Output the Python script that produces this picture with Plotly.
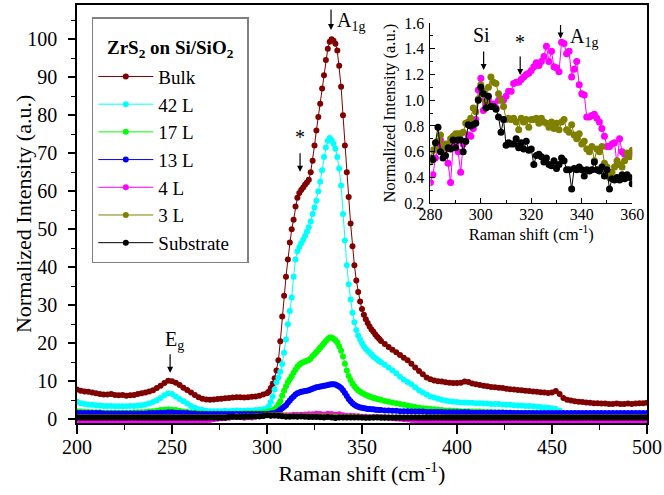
import plotly.graph_objects as go

# ---------------- data: main panel ----------------
x_fine = list(range(200, 300, 2)) + list(range(300, 360)) + list(range(360, 501, 2))
x_coarse = list(range(200, 501, 2))

bulk_y = [
    7.8, 7.5, 7.3, 7.2, 7.0, 6.8, 6.6, 6.5, 6.5, 6.6,
    6.4, 6.3, 6.4, 6.2, 6.3, 6.4, 6.6, 6.8, 7.0, 7.3,
    7.6, 8.2, 8.8, 9.5, 10.1, 10.0, 9.6, 9.0, 8.3, 7.7,
    7.0, 6.4, 5.8, 5.4, 5.2, 5.1, 5.2, 5.3, 5.4, 5.5,
    5.6, 5.7, 5.8, 5.8, 5.7, 5.8, 5.9, 6.0, 6.2, 6.5,
    6.8, 7.3, 8.2, 9.3, 10.8, 12.8, 15.5, 20.5, 27.0, 32.5,
    37.5, 42.0, 46.5, 50.0, 52.5, 56.0, 58.3, 59.5, 60.3, 61.0,
    61.7, 62.3, 63.0, 65.0, 68.0, 72.0, 76.0, 79.5, 83.0, 87.0,
    90.5, 94.5, 97.5, 99.3, 100.0, 99.6, 98.8, 97.0, 93.0, 87.5,
    80.0, 72.0, 65.0, 58.5, 51.5, 45.5, 40.5, 36.5, 33.5, 31.0,
    29.0, 27.5, 26.3, 25.3, 24.4, 23.6, 23.0, 22.3, 21.7, 21.2,
    20.6, 19.8, 19.0, 18.3, 17.6, 16.9, 16.2, 15.5, 14.6, 13.6,
    12.7, 11.8, 11.0, 10.5, 10.2, 10.0, 9.9, 9.7, 9.6, 9.5,
    9.5, 9.6, 9.9, 9.8, 9.4, 9.2, 9.0, 8.8, 8.7, 8.5,
    8.4, 8.3, 8.2, 8.0, 7.9, 7.8, 7.7, 7.6, 7.5, 7.4,
    7.3, 7.2, 7.1, 7.0, 6.9, 7.0, 7.4, 6.6, 5.6, 5.1,
    4.9, 4.7, 4.6, 4.5, 4.4, 4.3, 4.2, 4.2, 4.1, 4.1,
    4.0, 4.0, 4.1, 4.0, 4.0, 4.1, 4.0, 4.1, 4.2, 4.2,
    4.3,
]

l42_y = [
    4.6, 4.2, 4.0, 3.9, 3.8, 3.7, 3.6, 3.5, 3.5, 3.5,
    3.4, 3.4, 3.4, 3.4, 3.5, 3.5, 3.6, 3.7, 3.9, 4.1,
    4.5, 5.0, 5.6, 6.3, 6.8, 6.6, 6.0, 5.3, 4.7, 4.1,
    3.5, 3.0, 2.6, 2.4, 2.2, 2.1, 2.1, 2.1, 2.1, 2.2,
    2.1, 2.2, 2.3, 2.2, 2.2, 2.3, 2.3, 2.4, 2.5, 2.6,
    2.9, 3.4, 4.5, 6.0, 7.8, 9.7, 11.0, 12.5, 14.5, 17.5,
    21.0, 25.0, 28.5, 32.0, 37.5, 42.0, 44.2, 45.3, 46.3, 47.2,
    48.2, 49.3, 50.5, 52.0, 54.0, 55.7, 57.5, 60.0, 62.5, 65.5,
    69.0, 71.5, 73.3, 74.0, 73.5, 72.5, 71.2, 69.0, 66.0, 61.5,
    54.0, 47.0, 40.5, 35.5, 31.5, 28.0, 25.5, 23.5, 22.0, 21.0,
    20.0, 19.2, 18.5, 18.0, 17.5, 17.0, 16.5, 16.1, 15.7, 15.3,
    15.0, 14.3, 13.6, 12.9, 12.1, 11.2, 10.4, 9.8, 9.2, 8.4,
    7.6, 7.0, 6.5, 6.0, 5.7, 5.4, 5.1, 4.9, 4.7, 4.6,
    4.5, 4.4, 4.4, 4.3, 4.3, 4.2, 4.2, 4.1, 4.1, 4.0,
    4.0, 4.0, 3.9, 3.8, 3.8, 3.7, 3.6, 3.6, 3.5, 3.5,
    3.4, 3.3, 3.2, 3.1, 3.0, 2.9, 2.7, 2.2, 1.5, 1.3,
    1.2, 1.2, 1.2, 1.2, 1.2, 1.2, 1.2, 1.2, 1.2, 1.2,
    1.2, 1.2, 1.2, 1.2, 1.2, 1.2, 1.2, 1.2, 1.2, 1.2,
    1.2,
]

l17_y = [
    2.1, 2.0, 1.9, 1.9, 1.8, 1.8, 1.8, 1.7, 1.7, 1.7,
    1.7, 1.7, 1.7, 1.7, 1.7, 1.8, 1.8, 1.8, 1.9, 2.0,
    2.1, 2.2, 2.4, 2.5, 2.6, 2.5, 2.4, 2.2, 2.0, 1.9,
    1.8, 1.7, 1.6, 1.6, 1.5, 1.5, 1.5, 1.5, 1.5, 1.5,
    1.5, 1.5, 1.5, 1.5, 1.6, 1.6, 1.6, 1.6, 1.7, 1.8,
    1.9, 2.0, 2.1, 2.3, 2.6, 3.1, 3.8, 4.7, 6.2, 7.5,
    8.7, 9.7, 10.5, 11.3, 12.2, 13.0, 13.8, 14.3, 14.7, 15.0,
    15.2, 15.4, 15.6, 16.0, 16.6, 17.1, 17.6, 18.2, 18.8, 19.4,
    20.0, 20.6, 21.1, 21.5, 21.5, 21.2, 20.8, 20.2, 19.2, 18.0,
    16.5, 14.6, 12.8, 11.4, 10.3, 9.4, 8.7, 8.1, 7.6, 7.2,
    6.9, 6.6, 6.4, 6.2, 6.0, 5.8, 5.6, 5.5, 5.3, 5.2,
    5.1, 4.8, 4.6, 4.4, 4.2, 4.0, 3.8, 3.6, 3.4, 3.2,
    3.0, 2.9, 2.8, 2.7, 2.6, 2.5, 2.4, 2.3, 2.3, 2.2,
    2.2, 2.1, 2.1, 2.1, 2.0, 2.0, 2.0, 1.9, 1.9, 1.9,
    1.8, 1.8, 1.8, 1.7, 1.7, 1.7, 1.7, 1.6, 1.6, 1.6,
    1.6, 1.5, 1.5, 1.5, 1.5, 1.5, 1.5, 1.4, 1.4, 1.4,
    1.4, 1.4, 1.4, 1.4, 1.4, 1.4, 1.4, 1.4, 1.4, 1.4,
    1.4, 1.4, 1.4, 1.4, 1.4, 1.4, 1.4, 1.4, 1.4, 1.4,
    1.4,
]

l13_y = [
    1.6, 1.6, 1.6, 1.6, 1.6, 1.6, 1.6, 1.5, 1.5, 1.5,
    1.5, 1.5, 1.5, 1.5, 1.5, 1.5, 1.5, 1.5, 1.5, 1.6,
    1.6, 1.6, 1.7, 1.7, 1.8, 1.8, 1.7, 1.7, 1.6, 1.6,
    1.5, 1.5, 1.4, 1.4, 1.4, 1.4, 1.4, 1.4, 1.4, 1.4,
    1.4, 1.4, 1.4, 1.4, 1.4, 1.4, 1.4, 1.4, 1.4, 1.4,
    1.4, 1.4, 1.5, 1.5, 1.6, 1.8, 2.1, 2.5, 2.9, 3.3,
    3.7, 4.3, 4.9, 5.5, 6.0, 6.5, 6.8, 7.0, 7.2, 7.3,
    7.4, 7.5, 7.6, 7.8, 8.0, 8.2, 8.4, 8.5, 8.6, 8.7,
    8.8, 8.9, 9.0, 9.1, 9.2, 9.2, 9.1, 8.9, 8.6, 8.2,
    7.6, 6.9, 6.1, 5.3, 4.7, 4.2, 3.8, 3.5, 3.3, 3.1,
    3.0, 2.9, 2.8, 2.7, 2.7, 2.6, 2.6, 2.5, 2.5, 2.4,
    2.4, 2.3, 2.3, 2.2, 2.2, 2.1, 2.1, 2.1, 2.0, 2.0,
    2.0, 2.0, 1.9, 1.9, 1.9, 1.9, 1.9, 1.8, 1.8, 1.8,
    1.8, 1.8, 1.8, 1.8, 1.7, 1.7, 1.7, 1.7, 1.7, 1.7,
    1.7, 1.7, 1.7, 1.7, 1.7, 1.6, 1.6, 1.6, 1.6, 1.6,
    1.6, 1.6, 1.6, 1.6, 1.6, 1.6, 1.6, 1.6, 1.6, 1.6,
    1.6, 1.6, 1.6, 1.6, 1.6, 1.6, 1.6, 1.6, 1.6, 1.6,
    1.6, 1.6, 1.6, 1.6, 1.6, 1.6, 1.6, 1.6, 1.6, 1.6,
    1.6,
]

l4_y = [
    -0.4, -0.4, -0.4, -0.4, -0.4, -0.4, -0.4, -0.4, -0.4, -0.4,
    -0.4, -0.4, -0.4, -0.4, -0.4, -0.4, -0.4, -0.4, -0.4, -0.4,
    -0.4, -0.4, -0.4, -0.4, -0.4, -0.4, -0.4, -0.4, -0.4, -0.4,
    -0.4, -0.4, -0.4, -0.4, -0.4, -0.2, 0.0, 0.15, 0.25, 0.3,
    0.36, 0.55, 0.69, 0.62, 0.36, 0.66, 0.44, 0.68, 0.72, 0.85,
    1.17, 0.97, 0.95, 0.94, 1.01, 1.03, 1.07, 1.14, 1.16, 1.20,
    1.23, 1.29, 1.30, 1.42, 1.38, 1.25, 1.45, 1.36, 1.18, 1.30,
    1.05, 0.87, 0.88, 0.86, 0.78, 0.64, 0.66, 0.50, 0.60, 0.58,
    0.60, 0.5, 0.4, 0.3, 0.2, 0.1, 0.0, -0.1, -0.2, -0.3,
    -0.4, -0.4, -0.4, -0.4, -0.4, -0.4, -0.4, -0.4, -0.4, -0.4,
    -0.4, -0.4, -0.4, -0.4, -0.4, -0.4, -0.4, -0.4, -0.4, -0.4,
    -0.4, -0.4, -0.4, -0.4, -0.4, -0.4, -0.4, -0.4, -0.4, -0.4,
    -0.4, -0.4, -0.4, -0.4, -0.4, -0.4, -0.4, -0.4, -0.4, -0.4,
    -0.4, -0.4, -0.4, -0.4, -0.4, -0.4, -0.4, -0.4, -0.4, -0.4,
    -0.4, -0.4, -0.4, -0.4, -0.4, -0.4, -0.4, -0.4, -0.4, -0.4,
    -0.4,
]

l3_y = [
    0.5, 0.5, 0.5, 0.5, 0.5, 0.5, 0.5, 0.5, 0.5, 0.5,
    0.5, 0.5, 0.5, 0.5, 0.5, 0.5, 0.5, 0.5, 0.5, 0.5,
    0.5, 0.5, 0.5, 0.5, 0.5, 0.5, 0.5, 0.5, 0.5, 0.5,
    0.5, 0.5, 0.5, 0.5, 0.5, 0.5, 0.5, 0.5, 0.5, 0.5,
    0.52, 0.62, 0.73, 0.66, 0.70, 0.74, 0.74, 0.82, 0.86, 0.91,
    1.12, 0.99, 1.18, 1.13, 1.00, 0.85, 0.85, 0.83, 0.86, 0.85,
    0.85, 0.86, 0.86, 0.82, 0.83, 0.82, 0.83, 0.77, 0.81, 0.70,
    0.66, 0.62, 0.64, 0.62, 0.64, 0.48, 0.44, 0.53, 0.48, 0.59,
    0.61, 0.5, 0.5, 0.5, 0.5, 0.5, 0.5, 0.5, 0.5, 0.5,
    0.5, 0.5, 0.5, 0.5, 0.5, 0.5, 0.5, 0.5, 0.5, 0.5,
    0.5, 0.5, 0.5, 0.5, 0.5, 0.5, 0.5, 0.5, 0.5, 0.5,
    0.5, 0.5, 0.5, 0.5, 0.5, 0.5, 0.5, 0.5, 0.5, 0.5,
    0.5, 0.5, 0.5, 0.5, 0.5, 0.5, 0.5, 0.5, 0.5, 0.5,
    0.5, 0.5, 0.5, 0.5, 0.5, 0.5, 0.5, 0.5, 0.5, 0.5,
    0.5, 0.5, 0.5, 0.5, 0.5, 0.5, 0.5, 0.5, 0.5, 0.5,
    0.5,
]

sub_y = [
    0.4, 0.4, 0.4, 0.4, 0.4, 0.4, 0.4, 0.4, 0.4, 0.4,
    0.4, 0.4, 0.4, 0.4, 0.4, 0.4, 0.4, 0.4, 0.4, 0.4,
    0.4, 0.4, 0.4, 0.4, 0.4, 0.4, 0.4, 0.4, 0.4, 0.4,
    0.4, 0.4, 0.4, 0.4, 0.4, 0.4, 0.4, 0.4, 0.4, 0.4,
    0.55, 0.67, 0.60, 0.57, 0.62, 0.63, 0.69, 0.68, 0.80, 0.82,
    1.05, 0.94, 0.95, 0.93, 0.75, 0.65, 0.66, 0.70, 0.67, 0.68,
    0.62, 0.57, 0.56, 0.55, 0.49, 0.47, 0.55, 0.46, 0.31, 0.46,
    0.46, 0.46, 0.46, 0.46, 0.48, 0.46, 0.39, 0.40, 0.42, 0.42,
    0.35, 0.35, 0.35, 0.35, 0.35, 0.35, 0.35, 0.35, 0.35, 0.35,
    0.35, 0.35, 0.35, 0.35, 0.35, 0.35, 0.35, 0.35, 0.35, 0.35,
    0.35, 0.35, 0.35, 0.35, 0.35, 0.35, 0.35, 0.35, 0.35, 0.35,
    0.35, 0.35, 0.35, 0.35, 0.35, 0.35, 0.35, 0.35, 0.35, 0.35,
    0.35, 0.35, 0.35, 0.35, 0.35, 0.35, 0.35, 0.35, 0.35, 0.35,
    0.35, 0.35, 0.35, 0.35, 0.35, 0.35, 0.35, 0.35, 0.35, 0.35,
    0.35, 0.35, 0.35, 0.35, 0.35, 0.35, 0.35, 0.35, 0.35, 0.35,
    0.35,
]

# ---------------- data: inset ----------------
x_inset = list(range(280, 361))

l4_inset = [
    0.36, 0.42, 0.55, 0.64, 0.69, 0.60, 0.62, 0.51, 0.36, 0.64,
    0.66, 0.60, 0.44, 0.66, 0.68, 0.73, 0.72, 0.78, 0.85, 1.08,
    1.17, 0.92, 0.97, 1.00, 0.95, 0.97, 0.94, 1.00, 1.01, 1.00,
    1.03, 1.07, 1.07, 1.13, 1.14, 1.14, 1.16, 1.18, 1.20, 1.21,
    1.23, 1.26, 1.29, 1.27, 1.30, 1.34, 1.42, 1.30, 1.38, 1.26,
    1.25, 1.22, 1.45, 1.44, 1.36, 1.38, 1.18, 1.24, 1.30, 1.12,
    1.05, 1.04, 0.87, 0.87, 0.88, 0.89, 0.86, 0.83, 0.78, 0.72,
    0.64, 0.64, 0.66, 0.67, 0.50, 0.70, 0.60, 0.58, 0.58, 0.58,
    0.60,
]

l3_inset = [
    0.52, 0.61, 0.62, 0.68, 0.73, 0.62, 0.66, 0.66, 0.70, 0.72,
    0.74, 0.74, 0.74, 0.75, 0.82, 0.83, 0.86, 0.94, 0.91, 1.01,
    1.12, 1.07, 0.99, 1.10, 1.18, 1.14, 1.13, 1.05, 1.00, 0.95,
    0.85, 0.86, 0.85, 0.86, 0.83, 0.77, 0.86, 0.83, 0.85, 0.79,
    0.85, 0.85, 0.86, 0.82, 0.86, 0.83, 0.82, 0.79, 0.83, 0.78,
    0.82, 0.77, 0.83, 0.85, 0.77, 0.75, 0.81, 0.73, 0.70, 0.74,
    0.66, 0.68, 0.62, 0.60, 0.64, 0.53, 0.62, 0.60, 0.64, 0.51,
    0.48, 0.40, 0.44, 0.48, 0.53, 0.50, 0.48, 0.53, 0.59, 0.56,
    0.61,
]

sub_inset = [
    0.55, 0.54, 0.67, 0.79, 0.60, 0.55, 0.57, 0.63, 0.62, 0.69,
    0.63, 0.69, 0.69, 0.60, 0.68, 0.81, 0.80, 0.81, 0.82, 1.00,
    1.10, 1.05, 0.94, 1.03, 0.95, 0.95, 0.93, 0.87, 0.75, 0.85,
    0.65, 0.67, 0.66, 0.66, 0.70, 0.63, 0.67, 0.62, 0.68, 0.61,
    0.62, 0.50, 0.57, 0.58, 0.56, 0.52, 0.55, 0.50, 0.49, 0.53,
    0.47, 0.50, 0.55, 0.53, 0.46, 0.46, 0.31, 0.47, 0.46, 0.48,
    0.46, 0.41, 0.46, 0.45, 0.46, 0.52, 0.46, 0.45, 0.48, 0.41,
    0.46, 0.31, 0.39, 0.38, 0.40, 0.38, 0.42, 0.39, 0.42, 0.40,
    0.35,
]

names = ["Bulk", "42 L", "17 L", "13 L", "4 L", "3 L", "Substrate"]
colors = ["#800000", "#00FFFF", "#00FF00", "#0000FF", "#FF00FF", "#808000", "#000000"]
legend_heading = "<b>ZrS<sub>2</sub> on Si/SiO<sub>2</sub></b>"

main_x_tick_vals = [200, 250, 300, 350, 400, 450, 500]
main_y_tick_vals = [0, 10, 20, 30, 40, 50, 60, 70, 80, 90, 100]
inset_x_tick_vals = [280, 300, 320, 340, 360]
inset_y_tick_vals = [0.2, 0.4, 0.6, 0.8, 1.0, 1.2, 1.4, 1.6]

FONT = "'Liberation Serif', 'Times New Roman', 'DejaVu Serif', serif"

fig = go.Figure()

main_series = [
    (x_fine, bulk_y), (x_fine, l42_y), (x_fine, l17_y), (x_fine, l13_y),
    (x_coarse, l4_y), (x_coarse, l3_y), (x_coarse, sub_y),
]
for (xs, ys), name, col in zip(main_series, names, colors):
    fig.add_trace(go.Scatter(
        x=xs, y=ys, name=name, mode="lines+markers",
        line=dict(color=col, width=1),
        marker=dict(color=col, size=6),
        xaxis="x", yaxis="y",
    ))

inset_series = [(l4_inset, colors[4]), (l3_inset, colors[5]), (sub_inset, colors[6])]
for ys, col in inset_series:
    fig.add_trace(go.Scatter(
        x=x_inset, y=ys, mode="lines+markers", showlegend=False,
        line=dict(color=col, width=1),
        marker=dict(color=col, size=7),
        xaxis="x2", yaxis="y2",
    ))

axis_common = dict(showline=True, linecolor="black", showgrid=False, zeroline=False,
                   tickcolor="black", automargin=False)

fig.update_layout(
    width=664, height=495,
    margin=dict(l=77, r=17, t=5, b=72, autoexpand=False),
    paper_bgcolor="white", plot_bgcolor="white",
    font=dict(family=FONT, color="black", size=20),
    xaxis=dict(
        **axis_common, domain=[0, 1], range=[200, 500], linewidth=1.5, mirror=True,
        ticks="outside", ticklen=9, tickwidth=1.5, tickvals=main_x_tick_vals,
        minor=dict(dtick=25, tick0=200, ticklen=5, tickwidth=1.2, ticks="outside", tickcolor="black"),
        tickfont=dict(family=FONT, size=20), ticklabelstandoff=-4,
        title=dict(text="Raman shift (cm<sup>-1</sup>)", font=dict(family=FONT, size=22), standoff=4),
    ),
    yaxis=dict(
        **axis_common, domain=[0, 1], range=[-1, 109], linewidth=1.5, mirror=True,
        ticks="outside", ticklen=7, tickwidth=1.5, tickvals=main_y_tick_vals,
        minor=dict(dtick=5, tick0=0, ticklen=4, tickwidth=1.2, ticks="outside", tickcolor="black"),
        tickfont=dict(family=FONT, size=20), ticklabelstandoff=7,
    ),
    xaxis2=dict(
        **axis_common, domain=[0.620, 0.974], anchor="y2", range=[280, 360], linewidth=1,
        ticks="inside", ticklen=5, tickwidth=1, tickvals=inset_x_tick_vals,
        minor=dict(dtick=10, tick0=280, ticklen=3, tickwidth=1, ticks="inside", tickcolor="black"),
        tickfont=dict(family=FONT, size=16), ticklabelstandoff=-3,
        title=dict(text="Raman shift (cm<sup>-1</sup>)", font=dict(family=FONT, size=16.5), standoff=6),
    ),
    yaxis2=dict(
        **axis_common, domain=[0.526, 0.957], anchor="x2", range=[0.2, 1.6], linewidth=1,
        ticks="inside", ticklen=5, tickwidth=1, tickvals=inset_y_tick_vals, tickformat=".1f",
        minor=dict(dtick=0.1, tick0=0.2, ticklen=3, tickwidth=1, ticks="inside", tickcolor="black"),
        tickfont=dict(family=FONT, size=16), ticklabelstandoff=2,
        title=dict(text="Normalized Intensity (a.u.)", font=dict(family=FONT, size=16.5), standoff=4),
    ),
    legend=dict(
        x=0.026, y=0.971, xanchor="left", yanchor="top",
        bordercolor="#808080", borderwidth=1.5, bgcolor="rgba(255,255,255,0)",
        font=dict(family=FONT, size=19), itemwidth=55,
        # blank heading row: reserves the space where the heading text is drawn
        title=dict(text="&nbsp;" * 20, font=dict(family=FONT, size=30)),
        tracegroupgap=0,
    ),
    showlegend=True,
)

# main y-axis title
fig.add_annotation(x=-0.0947, y=0.5, xref="paper", yref="paper",
                   text="Normalized Intensity (a.u.)", textangle=-90, showarrow=False,
                   xanchor="center", yanchor="middle",
                   font=dict(family=FONT, size=22, color="black"))

# legend heading text (drawn in the legend's heading row)
fig.add_annotation(x=0.164, y=0.894, xref="paper", yref="paper", text=legend_heading,
                   showarrow=False, xanchor="center", yanchor="middle",
                   font=dict(family=FONT, size=19, color="black"))

arrow = dict(showarrow=True, arrowhead=2, arrowsize=1, arrowwidth=1.2, arrowcolor="black",
             text="", axref="pixel", ayref="pixel")
fig.add_annotation(x=333.7, y=102.4, ax=0, ay=-22, xref="x", yref="y", **arrow)
fig.add_annotation(x=317.4, y=65.1, ax=0, ay=-20, xref="x", yref="y", **arrow)
fig.add_annotation(x=249.0, y=12.2, ax=0, ay=-20, xref="x", yref="y", **arrow)
fig.add_annotation(x=301.1, y=1.234, ax=0, ay=-20, xref="x2", yref="y2", **arrow)
fig.add_annotation(x=315.6, y=1.195, ax=0, ay=-20, xref="x2", yref="y2", **arrow)
fig.add_annotation(x=331.6, y=1.48, ax=0, ay=-15, xref="x2", yref="y2", **arrow)

txt = dict(showarrow=False, font=dict(family=FONT, size=20, color="black"))
fig.add_annotation(x=336.0, y=108.6, xref="x", yref="y", text="A<sub>1g</sub>",
                   xanchor="left", yanchor="top", **txt)
fig.add_annotation(x=317.4, y=74.3, xref="x", yref="y", text="*",
                   xanchor="center", yanchor="middle", **txt)
fig.add_annotation(x=245.3, y=20.8, xref="x", yref="y", text="E<sub>g</sub>",
                   xanchor="left", yanchor="middle", **txt)
fig.add_annotation(x=300.4, y=1.51, xref="x2", yref="y2", text="Si",
                   xanchor="center", yanchor="middle", **txt)
fig.add_annotation(x=315.6, y=1.45, xref="x2", yref="y2", text="*",
                   xanchor="center", yanchor="middle", **txt)
fig.add_annotation(x=334.6, y=1.6, xref="x2", yref="y2", text="A<sub>1g</sub>",
                   xanchor="left", yanchor="top", **txt)

fig.write_html("out.html")
